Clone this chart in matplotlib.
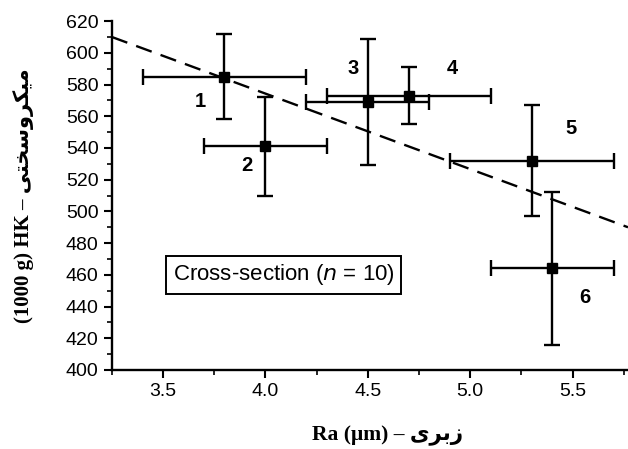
import matplotlib
matplotlib.use("Agg")
import matplotlib.pyplot as plt
from matplotlib.ticker import MultipleLocator

# Data
labels = ["1", "2", "3", "4", "5", "6"]
ra = [3.8, 4.0, 4.5, 4.7, 5.3, 5.4]
hk = [585, 541, 569, 573, 532, 464]
ra_err = [0.4, 0.3, 0.3, 0.4, 0.4, 0.3]
hk_err = [27, 31, 40, 18, 35, 48]
label_x = [3.68, 3.91, 4.43, 4.91, 5.49, 5.56]
label_y = [569, 529, 590, 590, 552, 446]
fit_x = [3.25, 5.77]
fit_y = [610, 490]

# Persian words pre-shaped (presentation forms, visual order)
fa_hardness = "\uFBFD\uFE98\uFEA8\uFEB3\uFEED\uFEAE\uFB91\uFBFF\uFEE3"
fa_rough = "\uFBFC\uFEAE\uFE91\uFEAF"

fig = plt.figure(figsize=(6.28, 4.49), dpi=100)
ax = fig.add_axes([0.178, 0.176, 0.822, 0.777])

ax.plot(fit_x, fit_y, color="black", lw=1.7, dashes=(7, 4))
ax.errorbar(ra, hk, xerr=ra_err, yerr=hk_err, fmt="s", color="black",
            ms=7, elinewidth=1.7, capsize=6, capthick=1.7, ecolor="black")
for t, x, y in zip(labels, label_x, label_y):
    ax.text(x, y, t, ha="center", va="center", fontsize=14.5, fontweight="bold",
            family="Liberation Sans")

ax.text(4.09, 460, "Cross-section ($\\mathit{n}$ = 10)", ha="center", va="center",
        fontsize=16, family="Liberation Sans",
        bbox=dict(boxstyle="square,pad=0.3", fc="white", ec="black", lw=1.4))

ax.set_xlim(3.25, 5.77)
ax.set_ylim(400, 620)
ax.xaxis.set_major_locator(MultipleLocator(0.5))
ax.xaxis.set_minor_locator(MultipleLocator(0.25))
ax.yaxis.set_major_locator(MultipleLocator(20))
ax.yaxis.set_minor_locator(MultipleLocator(10))
for s in ["top", "right"]:
    ax.spines[s].set_visible(False)
for s in ["left", "bottom"]:
    ax.spines[s].set_linewidth(1.7)
ax.tick_params(which="major", direction="out", length=6, width=1.5, labelsize=14)
ax.tick_params(which="minor", direction="out", length=3.5, width=1.2)
for lab in ax.get_xticklabels() + ax.get_yticklabels():
    lab.set_family("Liberation Sans")

ax.set_xlabel("Ra (\u03bcm) \u2013 " + fa_rough, fontsize=15.5, fontweight="bold",
              family=["Liberation Serif", "DejaVu Sans"])
ax.set_ylabel("(1000 g) HK \u2013 " + fa_hardness, fontsize=15, fontweight="bold",
              family=["Liberation Serif", "DejaVu Sans"])
ax.xaxis.set_label_coords(0.535, -0.16)
ax.yaxis.set_label_coords(-0.15, 0.5)

fig.savefig("out.png", dpi=100)
